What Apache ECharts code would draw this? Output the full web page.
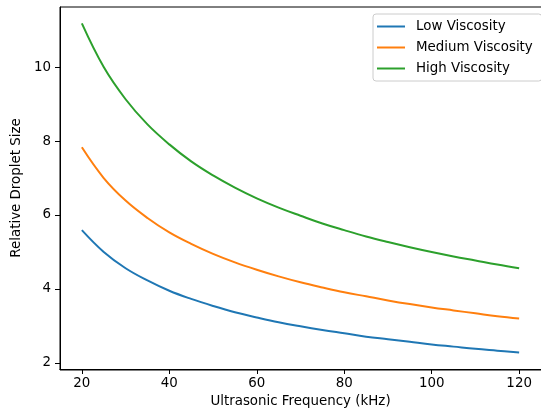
<!DOCTYPE html>
<html>
<head>
<meta charset="utf-8">
<script src="https://cdn.jsdelivr.net/npm/echarts@6/dist/echarts.min.js"></script>
<style>html,body{margin:0;padding:0;background:#fff}#c{width:541px;height:413px}</style>
</head>
<body>
<div id="c"></div>
<script>
const freq = [20, 25, 30, 35, 40, 45, 50, 55, 60, 65, 70, 75, 80, 85, 90, 95, 100, 105, 110, 115, 120];
const lowVisc = [5.59, 5.00, 4.56, 4.23, 3.95, 3.73, 3.54, 3.37, 3.23, 3.10, 2.99, 2.89, 2.80, 2.71, 2.64, 2.57, 2.50, 2.44, 2.38, 2.33, 2.28];
const medVisc = [7.83, 7.00, 6.39, 5.92, 5.53, 5.22, 4.95, 4.72, 4.52, 4.34, 4.18, 4.04, 3.91, 3.80, 3.69, 3.59, 3.50, 3.42, 3.34, 3.26, 3.20];
const highVisc = [11.18, 10.00, 9.13, 8.45, 7.91, 7.45, 7.07, 6.74, 6.45, 6.20, 5.98, 5.77, 5.59, 5.42, 5.27, 5.13, 5.00, 4.88, 4.77, 4.66, 4.56];
const xTicks = [20, 40, 60, 80, 100, 120];
const yTicks = [2, 4, 6, 8, 10];
const seriesNames = ['Low Viscosity', 'Medium Viscosity', 'High Viscosity'];
const colors = ['#1f77b4', '#ff7f0e', '#2ca02c'];

const font = 'DejaVu Sans';
const fs = 13.4;
const chart = echarts.init(document.getElementById('c'), null, {renderer: 'canvas'});
const mk = (name, vals, color) => ({
  name: name, type: 'line', data: freq.map((f, i) => [f, vals[i]]),
  showSymbol: false, smooth: 0.4,
  lineStyle: {color: color, width: 2}, itemStyle: {color: color}, animation: false
});
chart.setOption({
  animation: false,
  grid: {left: 60, top: 7, width: 486, height: 363, containLabel: false},
  xAxis: {
    type: 'value', min: 15, max: 125,
    name: 'Ultrasonic Frequency (kHz)', nameLocation: 'middle', nameGap: 26,
    nameTextStyle: {fontFamily: font, fontSize: fs, color: '#000'},
    axisLine: {show: true, lineStyle: {color: '#000', width: 1}},
    axisTick: {show: true, length: 5, inside: false, lineStyle: {color: '#000'}, customValues: xTicks},
    axisLabel: {fontFamily: font, fontSize: fs, color: '#000', margin: 8, customValues: xTicks},
    splitLine: {show: false}
  },
  yAxis: {
    type: 'value', min: 1.835, max: 11.625,
    name: 'Relative Droplet Size', nameLocation: 'middle', nameGap: 32,
    nameTextStyle: {fontFamily: font, fontSize: fs, color: '#000'},
    axisLine: {show: true, lineStyle: {color: '#000', width: 1}},
    axisTick: {show: true, length: 5, inside: false, lineStyle: {color: '#000'}, customValues: yTicks},
    axisLabel: {fontFamily: font, fontSize: fs, color: '#000', margin: 9, customValues: yTicks},
    splitLine: {show: false}
  },
  graphic: [{
    type: 'rect', shape: {x: 60, y: 7, width: 486, height: 363},
    style: {fill: 'none', stroke: '#000', lineWidth: 1}, silent: true, z: 10
  }],
  legend: {
    orient: 'vertical', left: 373, top: 14,
    data: seriesNames.map((n, i) => ({name: n, icon: 'rect', itemStyle: {color: colors[i]}})),
    itemWidth: 28, itemHeight: 2, itemGap: 6,
    padding: [5, 9, 5, 4],
    backgroundColor: 'rgba(255,255,255,0.8)', borderColor: '#cccccc', borderWidth: 1, borderRadius: 3,
    textStyle: {fontFamily: font, fontSize: fs, color: '#000', padding: [0, 0, 0, 6], lineHeight: 15}
  },
  series: [
    mk(seriesNames[0], lowVisc, colors[0]),
    mk(seriesNames[1], medVisc, colors[1]),
    mk(seriesNames[2], highVisc, colors[2])
  ]
});
</script>
</body>
</html>
